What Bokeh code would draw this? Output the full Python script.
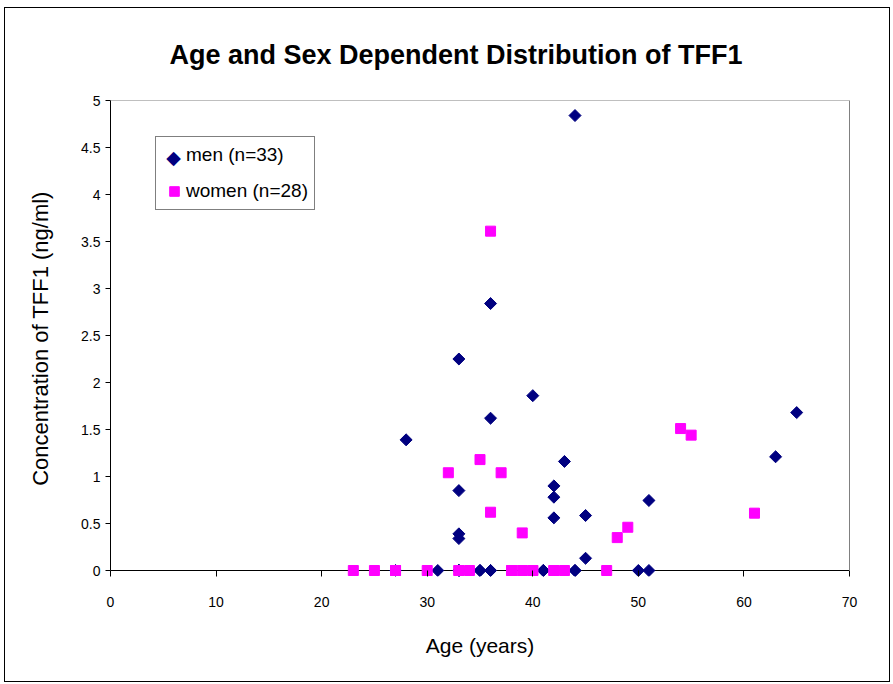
import math
from bokeh.plotting import figure
from bokeh.models import (Legend, LegendItem, ColumnDataSource, FixedTicker, LinearAxis,
                          Span, Label)
from bokeh.embed import file_html
from bokeh.resources import INLINE

# Men: age, concentration (ng/ml)
men_age = [28, 33, 33, 33, 33, 36, 36, 40, 44, 43, 42, 42, 42, 45, 45, 51, 63, 65,
           27, 31, 33, 33, 33, 35, 35, 36, 36, 41, 41, 44, 44, 50, 51]
men_conc = [1.39, 2.25, 0.85, 0.39, 0.34, 2.84, 1.62, 1.86, 4.84, 1.16, 0.90, 0.78, 0.56, 0.585, 0.13, 0.745, 1.21, 1.68,
            0, 0, 0, 0, 0, 0, 0, 0, 0, 0, 0, 0, 0, 0, 0]

# Women: age, concentration (ng/ml)
women_age = [32, 35, 36, 36, 37, 39, 48, 49, 54, 55, 61,
             23, 25, 27, 27, 30, 33, 33, 34, 38, 38, 39, 40, 40, 42, 42, 43, 47]
women_conc = [1.04, 1.18, 3.61, 0.62, 1.04, 0.40, 0.35, 0.46, 1.51, 1.44, 0.61,
              0, 0, 0, 0, 0, 0, 0, 0, 0, 0, 0, 0, 0, 0, 0, 0, 0]

x_ticks = [0, 10, 20, 30, 40, 50, 60, 70]
y_ticks = [0, 0.5, 1, 1.5, 2, 2.5, 3, 3.5, 4, 4.5, 5]
y_labels = {0: "0", 0.5: "0.5", 1: "1", 1.5: "1.5", 2: "2", 2.5: "2.5", 3: "3",
            3.5: "3.5", 4: "4", 4.5: "4.5", 5: "5"}

TITLE = "Age and Sex Dependent Distribution of TFF1"
FONT = "Liberation Sans"
NAVY = "#000080"
MAGENTA = "#FF00FF"

# y range dips a little below 0 so that markers sitting on 0 are not cut in half
p = figure(width=886, height=675, output_backend="svg", toolbar_location=None,
           x_range=(0, 70), y_range=(-0.0638, 5),
           min_border_left=105, min_border_right=42, min_border_top=92, min_border_bottom=107)
p.styles = {"border": "1px solid black", "margin-left": "4px", "margin-top": "7px"}

p.title.text = TITLE
p.title.align = "left"
p.title.offset = 59
p.title.vertical_align = "top"
p.title.standoff = 58
p.title.text_font = FONT
p.title.text_font_size = "27px"
p.title.text_font_style = "bold"
p.title.text_color = "black"

p.xgrid.visible = False
p.ygrid.visible = False
p.outline_line_color = None
p.background_fill_color = "white"
p.border_fill_color = "white"

for ax in (p.xaxis[0], p.yaxis[0]):
    ax.axis_line_color = "black"
    ax.major_tick_line_color = "black"
    ax.minor_tick_line_color = None
    ax.major_label_text_font = FONT
    ax.major_label_text_font_size = "14px"
    ax.major_label_text_color = "black"
    ax.axis_label_text_font = FONT
    ax.axis_label_text_font_size = "21px"
    ax.axis_label_text_font_style = "normal"
    ax.axis_label_text_color = "black"

p.yaxis.major_tick_out = 5
p.yaxis.major_tick_in = 0
p.yaxis.bounds = (0, 5)
p.yaxis.ticker = FixedTicker(ticks=y_ticks)
p.yaxis.major_label_overrides = y_labels
p.yaxis.axis_label = "Concentration of TFF1 (ng/ml)"
p.yaxis.axis_label_text_font_size = "22px"
p.yaxis.major_label_standoff = 5
p.yaxis.axis_label_standoff = 25

# x axis: ticks reach up to the zero line, which is drawn as a span
p.xaxis.axis_line_color = None
p.xaxis.major_tick_in = 6
p.xaxis.major_tick_out = 0
p.xaxis.ticker = FixedTicker(ticks=x_ticks)
p.xaxis.axis_label = "Age (years)"
p.xaxis.major_label_standoff = 20
p.xaxis.axis_label_standoff = 24
p.add_layout(Span(location=0, dimension="width", line_color="black", line_width=1, level="underlay"))

# plot-area border (top and right), grey
right_edge = LinearAxis(bounds=(0, 5), ticker=FixedTicker(ticks=[]), axis_line_color="#808080",
                        major_tick_line_color=None, minor_tick_line_color=None,
                        major_label_text_font_size="0px")
p.add_layout(right_edge, "right")
p.add_layout(Span(location=5, dimension="width", line_color="#808080", line_width=1))

men_src = ColumnDataSource(dict(x=men_age, y=men_conc))
women_src = ColumnDataSource(dict(x=women_age, y=women_conc))

r_men = p.scatter("x", "y", source=men_src, marker="square", size=8.5, angle=math.pi / 4,
                  fill_color=NAVY, line_color=NAVY)
r_women = p.scatter("x", "y", source=women_src, marker="square", size=10,
                    fill_color=MAGENTA, line_color=MAGENTA)

# empty text renderer: keeps the legend row for men without an upright square
r_men_key = p.text(x=[], y=[], text=[])

legend = Legend(items=[LegendItem(label="men (n=33)", renderers=[r_men_key]),
                       LegendItem(label="women (n=28)", renderers=[r_women])],
                location=(45, 366))
legend.label_text_font = FONT
legend.label_text_font_size = "19px"
legend.label_text_color = "black"
legend.border_line_color = "black"
legend.border_line_width = 1
legend.background_fill_color = None
legend.glyph_width = 24
legend.glyph_height = 24
legend.label_height = 24
legend.label_standoff = 0
legend.padding = 6
legend.spacing = 12
legend.margin = 0
p.add_layout(legend, "center")

p.add_layout(Label(x=63, y=420, x_units="screen", y_units="screen", text="\u25c6",
                   text_font="DejaVu Sans", text_font_size="19px", text_color=NAVY,
                   text_align="center", text_baseline="middle", level="overlay"))

open("out.html", "w").write(file_html(p, INLINE))
